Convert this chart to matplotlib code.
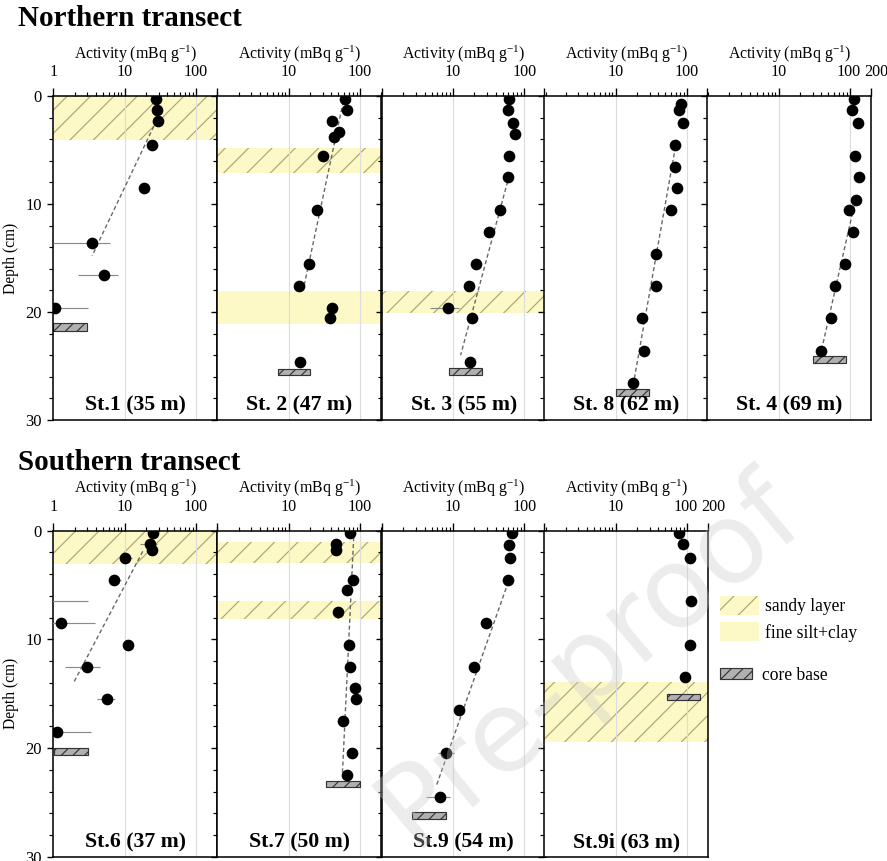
import numpy as np
import matplotlib
matplotlib.use('Agg')
import matplotlib.pyplot as plt
from matplotlib.patches import Patch
from matplotlib.transforms import ScaledTranslation
from matplotlib.ticker import FixedLocator, FixedFormatter, LogLocator, NullFormatter, MultipleLocator

plt.rcParams['font.family'] = ['Liberation Serif', 'DejaVu Serif']
plt.rcParams['mathtext.fontset'] = 'custom'
plt.rcParams['mathtext.rm'] = 'Liberation Serif'
plt.rcParams['mathtext.default'] = 'regular'
plt.rcParams['hatch.linewidth'] = 0.6

# ---------------- data ----------------
station_names = ['St.1 (35 m)', 'St. 2 (47 m)', 'St. 3 (55 m)', 'St. 8 (62 m)', 'St. 4 (69 m)',
                 'St.6 (37 m)', 'St.7 (50 m)', 'St.9 (54 m)', 'St.9i (63 m)']

# St.1
depth_st1 = [0.3, 1.3, 2.3, 4.55, 8.55, 13.6, 16.55, 19.6]
act_st1 = [28, 28.5, 29, 24.4, 19, 3.5, 5.1, 1.06]
lo_st1 = [24, 25, 25.5, 24.4, 19, 1.0, 2.2, 0.3]
hi_st1 = [32, 32, 32, 24.4, 19, 6.3, 8.0, 3.05]
# St.2
depth_st2 = [0.28, 1.26, 2.28, 3.3, 3.8, 5.54, 10.56, 15.6, 17.6, 19.6, 20.6, 24.6]
act_st2 = [61.5, 66, 41, 51, 43.6, 30.8, 25, 19.5, 13.8, 41, 38.7, 14.6]
lo_st2 = [61.5, 66, 41, 51, 43.6, 30.8, 25, 19.5, 11.8, 41, 38.7, 12.6]
hi_st2 = [61.5, 66, 41, 51, 43.6, 30.8, 25, 19.5, 16.2, 41, 38.7, 17.0]
# St.3
depth_st3 = [0.3, 1.3, 2.5, 3.54, 5.54, 7.54, 10.56, 12.6, 15.6, 17.6, 19.6, 20.6, 24.6]
act_st3 = [62, 59.5, 69, 74, 61.5, 58.9, 45.4, 32.5, 21, 16.7, 8.4, 18.4, 17.5]
lo_st3 = [62, 59.5, 69, 74, 61.5, 58.9, 45.4, 32.5, 21, 14.2, 4.7, 18.4, 15.3]
hi_st3 = [62, 59.5, 69, 74, 61.5, 58.9, 45.4, 32.5, 21, 19.7, 12.1, 18.4, 19.8]
# St.8
depth_st8 = [0.74, 1.3, 2.5, 4.52, 6.56, 8.56, 10.56, 14.6, 17.57, 20.56, 23.57, 26.6]
act_st8 = [84, 78, 88.7, 69.3, 67.8, 72.3, 59, 37, 37.4, 23.5, 24.8, 17.7]
# St.4
depth_st4 = [0.3, 1.3, 2.5, 5.54, 7.54, 9.6, 10.56, 12.6, 15.6, 17.6, 20.6, 23.6]
act_st4 = [115, 107, 130, 120, 135.6, 123, 98, 111.6, 86, 61.5, 54.7, 40]
# St.6
depth_st6 = [0.25, 1.22, 1.78, 2.5, 4.54, 6.5, 8.5, 10.5, 12.5, 15.5, 18.5]
act_st6 = [25.2, 22.6, 24.4, 10.3, 7.1, 0.5, 1.27, 11.2, 2.96, 5.66, 1.14]
lo_st6 = [25.2, 16.7, 24.4, 8.3, 6.0, 0.3, 0.3, 11.2, 1.48, 4.1, 0.3]
hi_st6 = [25.2, 28.7, 24.4, 12.7, 8.8, 3.1, 3.87, 11.2, 4.45, 7.4, 3.4]
# St.7
depth_st7 = [0.25, 1.22, 1.78, 4.54, 5.5, 7.5, 10.5, 12.5, 14.5, 15.5, 17.5, 20.5, 22.5]
act_st7 = [72, 47, 47, 79.7, 66.4, 49, 70, 72, 86, 88, 57.6, 77, 67]
# St.9
depth_st9 = [0.25, 1.28, 2.47, 4.5, 8.5, 12.5, 16.5, 20.5, 24.5]
act_st9 = [66.7, 61.8, 63.3, 59.3, 28.9, 19.5, 12.2, 8.1, 6.5]
lo_st9 = [66.7, 61.8, 63.3, 59.3, 28.9, 19.5, 10.4, 6.2, 4.25]
hi_st9 = [66.7, 61.8, 63.3, 59.3, 28.9, 19.5, 13.9, 10.4, 9.0]
# St.9i
depth_st9i = [0.25, 1.25, 2.48, 6.5, 10.5, 13.5]
act_st9i = [77.8, 87, 109, 115, 110, 94.6]

# sediment layers (top depth, bottom depth) in cm
sandy_layers = [[(0, 4.05)], [(4.8, 7.1)], [(18.1, 20.1)], [], [],
                [(0, 3.1)], [(1.07, 3.0), (6.5, 8.1)], [], [(13.95, 19.4)]]
silt_layers = [[], [(18.05, 21.1)], [], [], [],
               [], [], [], []]
# core base: top depth, bottom depth, activity span
core_top = [21.05, 25.3, 25.2, 27.15, 24.07, 20.0, 23.0, 25.9, 15.05]
core_bot = [21.8, 25.8, 25.85, 27.76, 24.75, 20.6, 23.6, 26.5, 15.6]
core_xmin = [1.0, 7.0, 8.9, 10.0, 30.1, 1.03, 34, 2.7, 52]
core_xmax = [3.0, 20.2, 25.8, 29.4, 87.9, 3.05, 100, 8.0, 152]
# fitted profile: (activity, depth) at both ends; None = no fit
fit_act_top = [25.7, 58.6, 62, 72, 120, 18, 82, 59.9, None]
fit_dep_top = [2.8, 0.5, 7.3, 4.06, 9.6, 1.9, 0.6, 4.7, None]
fit_act_bot = [3.5, 16.6, 12.8, 18.3, 40.8, 1.96, 57, 5.9, None]
fit_dep_bot = [14.8, 17.5, 24.0, 26.2, 23.3, 13.9, 22.3, 23.4, None]

depths = [depth_st1, depth_st2, depth_st3, depth_st8, depth_st4, depth_st6, depth_st7, depth_st9, depth_st9i]
acts = [act_st1, act_st2, act_st3, act_st8, act_st4, act_st6, act_st7, act_st9, act_st9i]
los = [lo_st1, lo_st2, lo_st3, None, None, lo_st6, None, lo_st9, None]
his = [hi_st1, hi_st2, hi_st3, None, None, hi_st6, None, hi_st9, None]

# ---------------- layout ----------------
W, H = 887, 861
DPI = 140
fig = plt.figure(figsize=(W / DPI, H / DPI), dpi=DPI)

lefts_px = [53.3, 217.3, 381.7, 544.3, 707.3]
panel_w = 164
rows = [(96, 420), (530.7, 856.7)]
layout = [(0, 0), (0, 1), (0, 2), (0, 3), (0, 4), (1, 0), (1, 1), (1, 2), (1, 3)]
show200 = [False, False, False, False, True, False, False, False, True]

SAND = '#fcf9c6'
HATCHC = '#aba577'
CORE = '#b0b0b0'

for i, (r, c) in enumerate(layout):
    top_px, bot_px = rows[r]
    ax = fig.add_axes([lefts_px[c] / W, 1 - bot_px / H, panel_w / W, (bot_px - top_px) / H])
    ax.set_xscale('log')
    ax.set_xlim(1, 200)
    ax.set_ylim(30, 0)

    for (t, b) in sandy_layers[i]:
        ax.axhspan(t, b, facecolor=SAND, edgecolor=HATCHC, hatch='//', lw=0, zorder=0.2)
    for (t, b) in silt_layers[i]:
        ax.axhspan(t, b, facecolor=SAND, edgecolor='none', lw=0, zorder=0.2)
    for v in (10, 100):
        ax.axvline(v, color='#dcdcdc', lw=0.6, zorder=0.5)

    ax.barh((core_top[i] + core_bot[i]) / 2, core_xmax[i] - core_xmin[i], left=core_xmin[i],
            height=core_bot[i] - core_top[i], color=CORE, edgecolor='#333333',
            hatch='////', lw=0.6, zorder=2)

    if fit_act_top[i] is not None:
        ax.plot([fit_act_top[i], fit_act_bot[i]], [fit_dep_top[i], fit_dep_bot[i]],
                ls=(0, (3, 2)), color='#666666', lw=0.7, zorder=2.5)

    a = np.array(acts[i], dtype=float)
    d = np.array(depths[i], dtype=float)
    if los[i] is not None:
        lo = np.array(los[i], dtype=float)
        hi = np.array(his[i], dtype=float)
        ax.errorbar(a, d, xerr=[a - lo, hi - a], fmt='none', ecolor='#8a8a8a',
                    elinewidth=0.6, capsize=0, zorder=2.8)
    ax.plot(a, d, 'o', color='black', ms=5, zorder=3)

    # axes styling
    ax.xaxis.tick_top()
    ax.xaxis.set_label_position('top')
    majors = [1, 10, 100] + ([200] if show200[i] else [])
    labels = ['1' if c == 0 else '', '10', '100'] + (['200'] if show200[i] else [])
    ax.xaxis.set_major_locator(FixedLocator(majors))
    ax.xaxis.set_major_formatter(FixedFormatter(labels))
    ax.xaxis.set_minor_locator(LogLocator(base=10, subs=np.arange(2, 10)))
    ax.xaxis.set_minor_formatter(NullFormatter())
    ax.tick_params(axis='x', which='major', direction='out', length=4, width=0.7, pad=4, labelsize=8.3)
    ax.tick_params(axis='x', which='minor', direction='out', length=2.2, width=0.6)
    ax.set_xlabel('Activity (mBq g$^{-1}$)', fontsize=8.2, labelpad=3)

    ax.yaxis.set_major_locator(MultipleLocator(10))
    ax.yaxis.set_minor_locator(MultipleLocator(2))
    ax.tick_params(axis='y', which='major', direction='out', length=3, width=0.7, labelsize=8.5,
                   left=True, right=False, labelleft=(c == 0), pad=3)
    ax.tick_params(axis='y', which='minor', direction='out', length=2.2, width=0.6, left=True, right=False)
    if c == 0:
        ax.set_ylabel('Depth (cm)', fontsize=8, labelpad=3)
    for s in ax.spines.values():
        s.set_linewidth(0.8)
    ax.text(0.5, 0.028, station_names[i], transform=ax.transAxes, ha='center', va='baseline',
            fontsize=11.2, fontweight='bold', zorder=4)

    if show200[i]:
        ticks = ax.xaxis.get_major_ticks()
        lab = ticks[3].label2
        lab.set_transform(lab.get_transform() + ScaledTranslation(5 / DPI, 0, fig.dpi_scale_trans))
        lab100 = ticks[2].label2
        lab100.set_transform(lab100.get_transform() + ScaledTranslation(-1 / DPI, 0, fig.dpi_scale_trans))

fig.text(18 / W, 1 - 18 / H, 'Northern transect', fontsize=15, fontweight='bold', va='center', ha='left')
fig.text(18 / W, 1 - 463 / H, 'Southern transect', fontsize=15, fontweight='bold', va='center', ha='left')

h_sand = Patch(facecolor=SAND, edgecolor=HATCHC, hatch='//', lw=0)
h_silt = Patch(facecolor=SAND, edgecolor='none', lw=0)
h_core = Patch(facecolor=CORE, edgecolor='#333333', hatch='////', lw=0.6)
fig.legend([h_sand, h_silt], ['sandy layer', 'fine silt+clay'], loc='upper left',
           bbox_to_anchor=(720 / W, 1 - 596 / H), frameon=False, fontsize=9,
           handlelength=2.2, handleheight=1.3, handletextpad=0.35, labelspacing=0.4,
           borderaxespad=0, borderpad=0)
fig.legend([h_core], ['core base'], loc='upper left',
           bbox_to_anchor=(720 / W, 1 - 667 / H), frameon=False, fontsize=9,
           handlelength=1.8, handleheight=0.6, handletextpad=0.6,
           borderaxespad=0, borderpad=0)

fig.text(590 / W, 1 - 660 / H, 'Pre-proof', rotation=40, fontsize=58, color='#c8c8c8',
         alpha=0.35, ha='center', va='center', family='DejaVu Sans', zorder=10)

fig.savefig('out.png', dpi=DPI)
